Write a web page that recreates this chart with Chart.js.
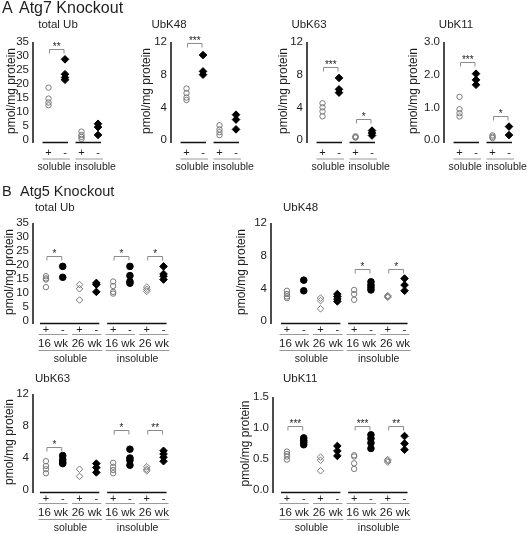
<!DOCTYPE html>
<html>
<head>
<meta charset="utf-8">
<script src="https://cdn.jsdelivr.net/npm/chart.js@4.4.1/dist/chart.umd.min.js"></script>
<style>
  body { margin: 0; width: 529px; height: 534px; position: relative; overflow: hidden; background: #fff;
         font-family: "Liberation Sans", Arial, sans-serif; color: #1e1e1e; }
  canvas { position: absolute; }
  .head { position: absolute; white-space: nowrap; z-index: 2; }
</style>
</head>
<body>
<div class="head" style="left:2px;top:0px;font-size:16px;line-height:16px">A</div>
<div class="head" style="left:19px;top:0px;font-size:16px;line-height:16px">Atg7 Knockout</div>
<div class="head" style="left:2px;top:183px;font-size:14.5px;line-height:16px">B</div>
<div class="head" style="left:20px;top:183px;font-size:14.5px;line-height:16px">Atg5 Knockout</div>
<script>
// tick labels and group names
const yLabel = 'pmol/mg protein';
const atg7Ticks = ['+', '-', '+', '-'];
const atg7Fractions = ['soluble', 'insoluble'];
const atg5Ticks = ['+', '-', '+', '-', '+', '-', '+', '-'];
const atg5Weeks = ['16 wk', '26 wk', '16 wk', '26 wk'];
const atg5Fractions = ['soluble', 'insoluble'];

// Atg7 knockout: soluble +, soluble -, insoluble +, insoluble -
const a7TotalUb = [[18.7, 14.8, 13.4, 12.4], [28.8, 23.5, 22.3, 21.5], [3.0, 1.8, 1.1, 0.4], [5.8, 4.6, 1.8]];
const a7TotalUbY = [0, 5, 10, 15, 20, 25, 30, 35];
const a7TotalUbSig = [[0, 1, '**', 32.5]];

const a7K48 = [[6.3, 5.75, 5.2, 4.9], [10.4, 8.4, 8.0], [1.8, 1.3, 0.96, 0.6], [3.1, 2.5, 1.3]];
const a7K48Y = [0, 4, 8, 12];
const a7K48Sig = [[0, 1, '***', 11.9]];

const a7K63 = [[4.5, 4.0, 3.5, 2.9], [7.6, 6.2, 5.8], [0.45, 0.35, 0.3], [1.15, 0.85, 0.55]];
const a7K63Y = [0, 4, 8, 12];
const a7K63Sig = [[0, 1, '***', 9.0], [2, 3, '*', 2.55]];

const a7K11 = [[1.32, 0.94, 0.82, 0.72], [2.03, 1.84, 1.69], [0.14, 0.1, 0.06], [0.41, 0.15]];
const a7K11Y = [0, 1, 2, 3];
const a7K11Sig = [[0, 1, '***', 2.4], [2, 3, '*', 0.75]];

// Atg5 knockout: 16 wk +/-, 26 wk +/- (soluble), then the same for insoluble
const a5TotalUb = [[16.0, 15.2, 14.8, 12.1], [19.5, 15.6], [13.0, 11.5, 7.5], [13.6, 13.0, 10.4],
                   [14.1, 12.5, 10.4, 9.8], [19.5, 16.2, 14.1, 13.5], [12.1, 11.3, 10.6], [19.5, 16.8, 16.0, 14.8]];
const a5TotalUbY = [0, 5, 10, 15, 20, 25, 30, 35];
const a5TotalUbSig = [[0, 1, '*', 23.1], [4, 5, '*', 23.1], [6, 7, '*', 23.1]];

const a5K48 = [[3.7, 3.3, 3.0, 2.8], [5.0, 3.7], [2.8, 2.5, 1.5], [3.3, 3.0, 2.7, 2.4],
               [3.8, 3.3, 2.6], [4.8, 4.4, 4.1, 3.8], [3.1, 3.0, 2.9], [5.2, 4.4, 3.7]];
const a5K48Y = [0, 4, 8, 12];
const a5K48Sig = [[4, 5, '*', 6.4], [6, 7, '*', 6.4]];

const a5K63 = [[3.6, 3.0, 2.6, 2.1], [4.3, 3.8, 3.5, 3.3], [2.6, 1.7], [3.3, 2.8, 2.2],
               [3.4, 2.9, 2.5, 2.1], [5.1, 4.0, 3.7, 3.1], [2.9, 2.6, 2.4], [4.9, 4.5, 4.1, 3.6]];
const a5K63Y = [0, 4, 8, 12];
const a5K63Sig = [[0, 1, '*', 5.4], [4, 5, '*', 7.5], [6, 7, '**', 7.5]];

const a5K11 = [[0.62, 0.58, 0.54, 0.49], [0.84, 0.80, 0.77, 0.73], [0.53, 0.48, 0.31], [0.71, 0.63, 0.55],
               [0.56, 0.54, 0.43, 0.34], [0.89, 0.83, 0.76, 0.67], [0.49, 0.47, 0.45], [0.87, 0.75, 0.65]];
const a5K11Y = [0, 0.5, 1, 1.5];
const a5K11Sig = [[0, 1, '***', 1.03], [4, 5, '***', 1.03], [6, 7, '**', 1.03]];

const ink = '#1e1e1e';
const FONT = '"Liberation Sans", Arial, sans-serif';
Chart.defaults.font.family = FONT;
Chart.defaults.color = ink;

const markers = {
    open: { pointStyle: 'circle', r: 2.7, fill: 'rgba(0,0,0,0)', line: '#7a7a7a' },
    openDiamond: { pointStyle: 'rectRot', r: 3.3, fill: 'rgba(0,0,0,0)', line: '#7a7a7a' },
    dot: { pointStyle: 'circle', r: 3.3, fill: '#000', line: '#000' },
    diamond: { pointStyle: 'rectRot', r: 3.8, fill: '#000', line: '#000' }
};
const atg7Styles = ['open', 'diamond', 'open', 'diamond'];
const atg5Styles = ['open', 'dot', 'openDiamond', 'diamond', 'open', 'dot', 'openDiamond', 'diamond'];

// layout of the three rows
const rowA = { kind: 'A', top: 0, h: 176, areaTop: 42, areaBottom: 140, w: 80, step: 16.5, xMin: -0.94, right: 5,
               tickPad: 6.5, titleY: 25, titleAlign: 'center', xLabels: atg7Ticks, fractions: atg7Fractions, styles: atg7Styles };
const rowB1 = { kind: 'B', top: 176, h: 189, areaTop: 223, areaBottom: 321, w: 140, step: 16.8, xMin: -0.77, right: 10,
                tickPad: 2.5, titleY: 208, titleAlign: 'left', xLabels: atg5Ticks, weeks: atg5Weeks, fractions: atg5Fractions, styles: atg5Styles };
const rowB2 = Object.assign({}, rowB1, { top: 365, h: 169, areaBottom: 490, tickPad: 2.5, titleY: 378.5 });

const panels = [
    Object.assign({}, rowA, { title: 'total Ub', values: a7TotalUb, yTicks: a7TotalUbY, sig: a7TotalUbSig, yDec: 0, axisX: 33, yw: 29, titleDx: 25 }),
    Object.assign({}, rowA, { title: 'UbK48', values: a7K48, yTicks: a7K48Y, sig: a7K48Sig, yDec: 0, axisX: 171, yw: 32, titleDx: -2 }),
    Object.assign({}, rowA, { title: 'UbK63', values: a7K63, yTicks: a7K63Y, sig: a7K63Sig, yDec: 0, axisX: 307, yw: 31, titleDx: 2 }),
    Object.assign({}, rowA, { title: 'UbK11', values: a7K11, yTicks: a7K11Y, sig: a7K11Sig, yDec: 1, axisX: 444, yw: 38, titleDx: 12 }),
    Object.assign({}, rowB1, { title: 'total Ub', values: a5TotalUb, yTicks: a5TotalUbY, sig: a5TotalUbSig, yDec: 0, axisX: 33, yw: 31, titleDx: 2 }),
    Object.assign({}, rowB1, { title: 'UbK48', values: a5K48, yTicks: a5K48Y, sig: a5K48Sig, yDec: 0, axisX: 271, yw: 37, titleDx: 12, xMin: -0.95 }),
    Object.assign({}, rowB2, { title: 'UbK63', values: a5K63, yTicks: a5K63Y, sig: a5K63Sig, yDec: 0, axisX: 33, yw: 31, titleDx: 2, areaTop: 394 }),
    Object.assign({}, rowB2, { title: 'UbK11', values: a5K11, yTicks: a5K11Y, sig: a5K11Sig, yDec: 1, axisX: 273, yw: 35, titleDx: 10, areaTop: 397, xMin: -0.83 })
];

// axis line, group lines, group labels, brackets and panel title
function decor(p) {
    return {
        id: 'decor',
        afterDraw(chart) {
            const { ctx, chartArea: a, scales: { x, y } } = chart;
            const px = v => x.getPixelForValue(v);
            const seg = (x0, y0, x1, y1) => { ctx.beginPath(); ctx.moveTo(x0, y0); ctx.lineTo(x1, y1); ctx.stroke(); };
            const label = (s, cx, cy, size, align) => {
                ctx.font = size + 'px ' + FONT;
                ctx.textAlign = align || 'center';
                ctx.textBaseline = 'middle';
                ctx.fillText(s, cx, cy);
            };
            ctx.save();
            ctx.fillStyle = ink;
            label(p.title, a.left + p.titleDx, p.titleY - p.top, 11.5, p.titleAlign);

            ctx.strokeStyle = '#111';
            ctx.lineWidth = 1.5;
            seg(a.left, a.top, a.left, a.bottom + 3);
            const base = a.bottom + 2.5;
            const halves = p.kind === 'A' ? [[0, 1], [2, 3]] : [[0, 3], [4, 7]];
            halves.forEach(([i0, i1]) => seg(px(i0) - 6, base, px(i1) + 3, base));

            ctx.strokeStyle = '#9a9a9a';
            ctx.lineWidth = 1;
            if (p.kind === 'A') {
                halves.forEach(([i0, i1], k) => {
                    const l = px(i0) - 6, r = px(i1) + 5;
                    seg(l, a.bottom + 19, r, a.bottom + 19);
                    if (k === 0) label(p.fractions[k], (l + r) / 2 - 2, a.bottom + 27, 10.5);
                    else label(p.fractions[k], l - 1, a.bottom + 27, 10.5, 'left');
                });
            } else {
                p.weeks.forEach((w, k) => {
                    const l = px(2 * k) - 7.5, r = px(2 * k + 1) + 5;
                    seg(l, a.bottom + 13.5, r, a.bottom + 13.5);
                    label(w, (l + r) / 2, a.bottom + 22.5, 11.5);
                });
                halves.forEach(([i0, i1], k) => {
                    const l = px(i0) - 7.5, r = px(i1) + 6;
                    seg(l, a.bottom + 29.5, r, a.bottom + 29.5);
                    label(p.fractions[k], (l + r) / 2, a.bottom + 38.5, 10.5);
                });
            }

            ctx.strokeStyle = '#8c8c8c';
            p.sig.forEach(([i0, i1, stars, level]) => {
                const yy = Math.round(y.getPixelForValue(level)) + 0.5;
                const l = px(i0) + 1, r = px(i1) - 1;
                ctx.beginPath();
                ctx.moveTo(l, yy + 4); ctx.lineTo(l, yy); ctx.lineTo(r, yy); ctx.lineTo(r, yy + 4);
                ctx.stroke();
                ctx.font = '10px ' + FONT;
                ctx.textAlign = 'center';
                ctx.textBaseline = 'alphabetic';
                ctx.fillText(stars, (l + r) / 2, yy + 0.5);
            });
            ctx.restore();
        }
    };
}

function makePanel(p) {
    const cv = document.createElement('canvas');
    cv.width = p.yw + p.w + p.right;
    cv.height = p.h;
    cv.style.left = (p.axisX - p.yw) + 'px';
    cv.style.top = p.top + 'px';
    document.body.appendChild(cv);
    const xh = p.top + p.h - p.areaBottom;

    new Chart(cv, {
        type: 'scatter',
        data: {
            datasets: p.values.map((vals, i) => {
                const m = markers[p.styles[i]];
                return {
                    data: vals.map(v => ({ x: i, y: v })),
                    pointStyle: m.pointStyle,
                    pointRadius: m.r,
                    pointHoverRadius: m.r,
                    pointBackgroundColor: m.fill,
                    pointBorderColor: m.line,
                    pointBorderWidth: 1,
                    clip: false
                };
            })
        },
        options: {
            responsive: false,
            animation: false,
            events: [],
            layout: { padding: { top: p.areaTop - p.top, right: p.right, left: 0, bottom: 0 } },
            plugins: { legend: { display: false }, tooltip: { enabled: false } },
            scales: {
                x: {
                    type: 'linear',
                    min: p.xMin,
                    max: p.xMin + p.w / p.step,
                    afterBuildTicks: s => { s.ticks = p.xLabels.map((t, i) => ({ value: i })); },
                    afterFit: s => { s.height = xh; },
                    ticks: { callback: v => p.xLabels[v], padding: p.tickPad, font: { size: 11 }, color: ink, autoSkip: false, maxRotation: 0 },
                    grid: { display: false, drawTicks: false },
                    border: { display: false }
                },
                y: {
                    min: 0,
                    max: p.yTicks[p.yTicks.length - 1],
                    afterBuildTicks: s => { s.ticks = p.yTicks.map(v => ({ value: v })); },
                    afterFit: s => { s.width = p.yw; },
                    ticks: { callback: v => v.toFixed(p.yDec), padding: 4, font: { size: 11.5 }, color: ink, autoSkip: false },
                    title: { display: true, text: yLabel, font: { size: 12 }, color: ink, padding: 0 },
                    grid: { display: false, drawTicks: false },
                    border: { display: false }
                }
            }
        },
        plugins: [decor(p)]
    });
}

panels.forEach(makePanel);
</script>
</body>
</html>
